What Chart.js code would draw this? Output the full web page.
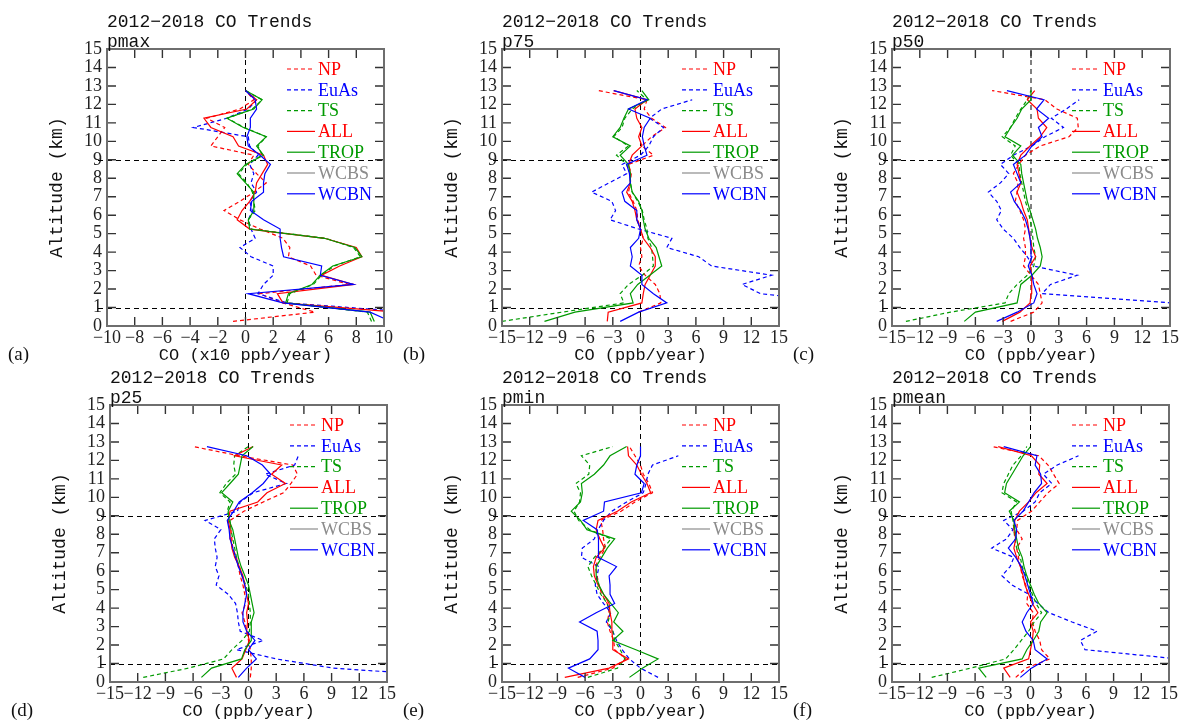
<!DOCTYPE html>
<html>
<head>
<meta charset="utf-8">
<script src="https://cdn.jsdelivr.net/npm/chart.js@4.4.0/dist/chart.umd.min.js"></script>
<style>
body{margin:0;background:#fff;overflow:hidden;width:1183px;height:723px;position:relative}
canvas{position:absolute}
</style>
</head>
<body>
<script>
// altitude levels (km), bottom to top
const ALT = [0.25,0.75,1.25,1.75,2.25,2.75,3.25,3.75,4.25,4.75,5.25,5.75,6.25,6.75,7.25,7.75,8.25,8.75,9.25,9.75,10.25,10.75,11.25,11.75,12.25,12.75];
const SERIES = ['NP','EuAs','TS','ALL','TROP','WCBS','WCBN'];
const Y_TICKS = [0,1,2,3,4,5,6,7,8,9,10,11,12,13,14,15];

// (a) pmax, units x10 ppb/year
const pmax_NP   = [-0.9,5.0,2.7,1.0,7.5,5.1,4.7,3.1,3.2,2.7,1.05,-0.4,-1.55,-0.4,0.6,1.5,0.8,0.2,0.6,-2.5,-2.0,-1.5,-2.8,-0.4,0.6,0.0];
const pmax_EuAs = [null,12,3.0,0.9,1.3,2.0,2.0,0.4,-0.4,0.7,0.4,0.2,0.5,0.3,0.8,0.4,0.6,0.3,0.9,0.3,0.2,-3.75,-1.35,0.2,0.8,0.0];
const pmax_TS   = [9.1,8.8,3.0,3.2,4.9,5.5,6.4,8.3,7.8,5.8,0.4,0.2,0.7,0.6,0.5,0.1,-0.5,0.1,1.2,0.9,1.5,-0.1,-1.3,0.5,1.2,0.0];
const pmax_ALL  = [null,11,2.7,2.3,7.8,5.5,6.8,8.4,8.0,5.7,0.3,-0.6,-0.25,0.3,0.7,0.8,1.2,1.6,1.3,-0.5,-0.9,-2.5,-3.0,0.1,0.8,0.0];
const pmax_TROP = [9.3,9.0,2.9,3.1,4.8,5.4,6.3,8.4,7.9,5.7,0.3,0.2,0.6,0.6,0.6,0.0,-0.6,0.0,1.3,0.8,1.5,-0.15,-1.35,0.6,1.2,0.0];
const pmax_WCBS = [];
const pmax_WCBN = [10.5,9.0,2.7,0.2,7.8,5.4,5.5,2.75,2.6,2.5,2.5,1.3,0.35,0.45,1.3,1.3,1.4,1.8,1.05,0.2,0.1,0.35,0.35,0.8,0.7,0.0];

// (b) p75
const p75_NP   = [null,-0.2,2.2,2.1,1.6,0.5,-0.2,0.15,0.0,0.3,0.0,-0.3,-0.4,-0.8,-1.3,-1.1,-1.0,-1.3,1.4,0.15,1.2,2.7,1.2,0.4,0.7,-4.6];
const p75_EuAs = [null,null,22,13.0,11.0,14.2,7.7,6.3,2.85,3.4,-0.2,-3.3,-2.7,-3.1,-5.3,-3.4,-1.5,-2.0,0.0,0.9,1.4,2.5,1.0,2.3,5.6,null];
const p75_TS   = [-15,-8.5,-1.8,-2.2,-1.3,0.2,1.4,1.3,1.2,0.8,0.7,0.4,0.2,-0.3,-0.9,-1.1,-1.1,-1.5,-2.6,-1.3,-2.9,-2.0,-1.7,-0.9,0.7,-0.4];
const p75_ALL  = [-3.6,-3.5,0.15,0.3,0.5,1.05,1.6,1.6,1.05,0.3,0.0,-0.4,-0.6,-0.9,-1.5,-1.1,-1.1,-1.3,-0.9,0.15,-0.2,0.15,-0.4,-0.6,0.7,-2.9];
const p75_TROP = [-10.4,-7.1,-0.8,-1.1,-0.3,1.0,2.3,2.0,1.7,0.9,0.5,0.3,0.15,-0.2,-0.9,-1.1,-1.1,-1.3,-2.2,-1.1,-3.0,-2.2,-1.8,-1.3,0.9,0.15];
const p75_WCBS = [];
const p75_WCBN = [-2.2,-0.2,2.85,1.4,0.15,0.15,-1.1,-0.9,-1.1,-0.2,0.0,-0.4,-0.4,-1.7,-2.0,-1.1,-1.2,-1.5,0.7,0.4,0.2,0.4,1.05,-1.3,0.7,-2.9];

// (c) p50
const p50_NP   = [-2.2,0.3,1.2,1.0,0.8,0.0,-0.8,-0.6,-0.6,-0.8,-0.6,-0.8,-1.2,-1.7,-1.5,-1.4,-1.9,-1.3,-0.6,1.0,4.1,5.1,5.0,2.8,1.5,-4.2];
const p50_EuAs = [null,null,15.2,1.2,2.1,5.0,0.2,-0.4,-1.2,-1.9,-3.0,-3.7,-3.2,-3.7,-4.6,-3.3,-2.4,-3.3,-1.9,0.1,1.5,3.5,2.2,3.8,5.2,null];
const p50_TS   = [-13.5,-8.7,-2.8,-2.4,-1.5,-0.4,0.3,0.5,0.3,0.2,0.1,-0.1,-0.3,-0.6,-0.8,-1.0,-1.2,-1.3,-2.2,-1.7,-3.1,-2.2,-1.7,-1.1,-0.4,0.0];
const p50_ALL  = [-3.1,-1.2,-0.1,0.0,0.05,0.1,-0.1,0.5,0.1,-0.1,-0.25,-0.4,-0.8,-1.1,-1.5,-1.1,-1.3,-1.5,-1.1,-0.1,1.0,1.7,0.8,0.65,-0.4,0.4];
const p50_TROP = [-7.2,-6.0,-1.5,-1.3,-1.1,0.1,1.0,1.2,1.0,0.7,0.5,0.2,-0.1,-0.4,-0.6,-0.8,-1.0,-1.1,-2.0,-1.1,-2.8,-2.2,-1.5,-1.0,0.0,0.0];
const p50_WCBS = [];
const p50_WCBN = [-3.7,-1.5,0.3,0.65,0.3,0.1,-0.3,0.1,0.0,-0.1,-0.3,-0.6,-1.1,-1.8,-2.2,-1.1,-1.5,-1.9,-0.6,0.1,1.2,0.8,1.9,0.6,1.4,-2.6];

// (d) p25
const p25_NP   = [0.2,0.3,0.3,0.2,0.0,-0.2,-0.4,-0.7,-0.3,-0.4,-0.6,-0.9,-1.1,-1.3,-1.7,-1.8,-1.9,-2.0,-0.5,1.6,3.8,4.6,5.3,4.8,-1.0,-6.0];
const p25_EuAs = [24,9.2,3.0,-1.3,1.6,-0.9,-1.1,-1.2,-1.4,-2.2,-3.5,-3.2,-3.6,-3.4,-3.6,-3.7,-3.0,-4.7,-1.2,-0.9,0.5,4.1,1.8,5.0,5.4,null];
const p25_TS   = [-11.4,-6.5,-2.7,-1.8,-0.7,0.1,0.2,0.2,0.1,0.0,-0.3,-0.7,-1.0,-1.3,-1.5,-1.7,-1.9,-2.0,-2.3,-2.0,-3.1,-2.4,-1.4,-1.6,-1.5,0.0];
const p25_ALL  = [-1.3,-1.8,-0.7,-0.3,0.1,-0.2,-0.1,-0.2,0.0,-0.2,-0.4,-0.6,-1.0,-1.5,-1.8,-1.9,-2.0,-2.2,-2.0,1.0,2.0,4.0,2.5,3.6,-1.5,0.5];
const p25_TROP = [-5.1,-4.0,-0.75,-0.4,0.3,0.3,0.3,0.6,0.4,0.2,0.0,-0.4,-0.8,-1.1,-1.3,-1.5,-1.7,-2.1,-2.2,-1.7,-2.9,-2.0,-1.1,-0.9,-0.7,0.5];
const p25_WCBS = [];
const p25_WCBN = [-1.1,-0.2,0.85,0.0,0.7,-0.2,-0.6,-0.6,-0.4,-0.2,-0.4,-0.7,-1.1,-1.4,-1.7,-2.0,-2.1,-2.3,-1.6,-1.0,0.4,1.6,2.4,1.5,-0.2,-4.5];

// (e) pmin
const pmin_NP   = [-6.8,-3.0,-1.6,-2.8,-2.9,-3.3,-3.6,-3.4,-3.6,-4.2,-4.5,-4.7,-4.9,-4.4,-3.8,-4.0,-4.1,-4.3,-2.1,-0.6,1.3,0.9,0.3,0.0,-0.6,-1.2];
const pmin_EuAs = [1.9,0.0,-1.2,-2.0,-2.6,-3.0,-3.7,-3.2,-4.0,-4.7,-4.9,-4.7,-4.5,-6.4,-6.3,-5.0,-4.6,-4.0,-3.1,-1.5,0.3,0.6,0.8,1.3,4.1,null];
const pmin_TS   = [-5.7,-2.5,-1.7,-2.2,-2.8,-3.0,-3.5,-3.3,-3.6,-4.3,-4.8,-5.3,-5.7,-5.0,-4.0,-3.2,-5.5,-6.7,-7.2,-6.6,-6.5,-7.0,-5.6,-5.5,-6.4,-3.0];
const pmin_ALL  = [-8.2,-3.4,-1.3,-3.0,-3.0,-3.1,-3.1,-3.3,-3.4,-4.0,-4.6,-5.0,-5.1,-4.8,-3.9,-4.4,-4.8,-4.6,-2.5,-1.0,1.1,0.7,0.1,-0.4,-1.3,-1.4];
const pmin_TROP = [-1.2,0.2,1.9,-0.5,-3.0,-1.9,-2.9,-2.4,-3.2,-4.0,-4.5,-4.8,-4.8,-4.2,-3.6,-2.8,-5.8,-6.5,-7.5,-6.5,-6.3,-6.4,-5.0,-4.0,-3.3,-1.5];
const pmin_WCBS = [];
const pmin_WCBN = [-6.0,-7.8,-5.5,-4.6,-4.6,-4.7,-6.6,-4.8,-2.8,-3.3,-3.3,-3.4,-2.6,-4.6,-4.6,-4.5,-4.7,-6.2,-4.0,-3.9,0.1,0.4,-0.6,-0.4,0.0,0.0];

// (f) pmean
const pmean_NP   = [-1.6,-0.5,2.1,1.2,1.0,0.5,0.2,0.3,-0.4,-0.3,-0.5,-0.9,-1.1,-1.3,-1.5,-0.9,-1.5,-1.4,0.1,1.0,1.9,3.1,2.5,1.9,0.9,-4.2];
const pmean_EuAs = [null,null,16,5.9,5.4,7.2,4.5,2.0,0.8,-0.2,-2.0,-3.1,-2.2,-1.8,-4.2,-2.6,-1.9,-2.9,-0.8,0.5,1.0,2.3,1.4,2.9,5.2,null];
const pmean_TS   = [-10.7,-6.5,-2.7,-1.8,-1.0,-0.2,0.4,1.2,0.6,0.2,-0.2,-0.5,-0.9,-1.1,-1.5,-1.7,-1.8,-1.9,-2.1,-1.5,-3.1,-2.9,-2.4,-1.9,-1.0,-0.4];
const pmean_ALL  = [-2.2,-2.9,-0.2,0.0,0.2,0.3,0.0,0.8,0.2,-0.2,-0.6,-0.8,-1.1,-1.5,-1.8,-1.6,-1.8,-1.7,-1.2,-0.2,0.6,1.8,0.9,1.0,0.1,-3.5];
const pmean_TROP = [-4.8,-5.6,-0.9,-0.4,0.3,0.9,1.1,1.8,0.9,0.4,0.0,-0.4,-0.7,-0.9,-1.3,-1.5,-1.7,-1.8,-2.3,-1.2,-2.8,-2.6,-2.0,-1.4,-0.8,0.0];
const pmean_WCBS = [];
const pmean_WCBN = [-1.1,0.1,1.8,0.5,0.3,-0.5,-0.9,-0.4,0.3,0.0,-0.3,-0.6,-1.0,-1.6,-2.4,-1.6,-1.5,-1.8,-0.8,-0.2,0.4,1.2,1.1,0.5,0.7,-2.9];

const STYLE = {
  NP:   {color:'#ff0000', dash:[4,3]},
  EuAs: {color:'#0000ff', dash:[4,3]},
  TS:   {color:'#009a00', dash:[4,3]},
  ALL:  {color:'#ff0000', dash:[]},
  TROP: {color:'#009a00', dash:[]},
  WCBS: {color:'#8c8c8c', dash:[]},
  WCBN: {color:'#0000ff', dash:[]}
};

const PANELS = [
  {tag:'(a)', sub:'pmax', xTitle:'CO (x10 ppb/year)', min:-10, max:10, step:2, left:0,   top:0,   w:277,
   vals:[pmax_NP,pmax_EuAs,pmax_TS,pmax_ALL,pmax_TROP,pmax_WCBS,pmax_WCBN]},
  {tag:'(b)', sub:'p75',  xTitle:'CO (ppb/year)', min:-15, max:15, step:3, left:395, top:0,   w:277,
   vals:[p75_NP,p75_EuAs,p75_TS,p75_ALL,p75_TROP,p75_WCBS,p75_WCBN]},
  {tag:'(c)', sub:'p50',  xTitle:'CO (ppb/year)', min:-15, max:15, step:3, left:785, top:0,   w:278,
   vals:[p50_NP,p50_EuAs,p50_TS,p50_ALL,p50_TROP,p50_WCBS,p50_WCBN]},
  {tag:'(d)', sub:'p25',  xTitle:'CO (ppb/year)', min:-15, max:15, step:3, left:3,   top:356, w:277,
   vals:[p25_NP,p25_EuAs,p25_TS,p25_ALL,p25_TROP,p25_WCBS,p25_WCBN]},
  {tag:'(e)', sub:'pmin', xTitle:'CO (ppb/year)', min:-15, max:15, step:3, left:395, top:356, w:277,
   vals:[pmin_NP,pmin_EuAs,pmin_TS,pmin_ALL,pmin_TROP,pmin_WCBS,pmin_WCBN]},
  {tag:'(f)', sub:'pmean',xTitle:'CO (ppb/year)', min:-15, max:15, step:3, left:785, top:356, w:277,
   vals:[pmean_NP,pmean_EuAs,pmean_TS,pmean_ALL,pmean_TROP,pmean_WCBS,pmean_WCBN]}
];

const AXIS_W = 107, TOP_PAD = 49, RIGHT_PAD = 14, X_AXIS_H = 45, PLOT_H = 277;
const MONO = '"Liberation Mono", monospace';
const SERIF = '"Liberation Serif", serif';

function minusLabel(v){ return v < 0 ? '\u2212' + Math.abs(v) : String(v); }

const decor = {
  id: 'decor',
  beforeDatasetsDraw(chart){
    const {ctx, chartArea: a, scales:{x, y}} = chart;
    ctx.save();
    ctx.strokeStyle = '#000';
    ctx.lineWidth = 1;
    ctx.setLineDash([5,4]);
    const x0 = x.getPixelForValue(0);
    ctx.beginPath(); ctx.moveTo(x0, a.bottom); ctx.lineTo(x0, a.top); ctx.stroke();
    [9, 1].forEach(v=>{
      const yy = Math.round(y.getPixelForValue(v)) + 0.5;
      ctx.beginPath(); ctx.moveTo(a.left - 9, yy); ctx.lineTo(a.right, yy); ctx.stroke();
    });
    ctx.restore();
  },
  afterDraw(chart, args, opts){
    const {ctx, chartArea: a, scales:{x, y}} = chart;
    const p = opts.panel;
    ctx.save();
    // inward tick marks
    ctx.strokeStyle = '#333';
    ctx.lineWidth = 1.4;
    Y_TICKS.forEach(v=>{
      const yy = y.getPixelForValue(v);
      ctx.beginPath();
      ctx.moveTo(a.left, yy); ctx.lineTo(a.left + 9, yy);
      ctx.moveTo(a.right - 9, yy); ctx.lineTo(a.right, yy);
      ctx.stroke();
    });
    for (let v = p.min; v <= p.max; v += p.step){
      const xx = x.getPixelForValue(v);
      ctx.beginPath();
      ctx.moveTo(xx, a.bottom); ctx.lineTo(xx, a.bottom - 9);
      ctx.moveTo(xx, a.top); ctx.lineTo(xx, a.top + 9);
      ctx.stroke();
    }
    // frame
    ctx.strokeStyle = '#6e6e6e';
    ctx.lineWidth = 2;
    ctx.strokeRect(a.left, a.top, a.right - a.left, a.bottom - a.top);

    // legend
    ctx.lineWidth = 1.2;
    ctx.textBaseline = 'middle';
    ctx.textAlign = 'left';
    ctx.font = '18px ' + SERIF;
    SERIES.forEach((s, i)=>{
      const yy = a.top + 20 + i * 20.8;
      ctx.strokeStyle = STYLE[s].color;
      ctx.setLineDash(STYLE[s].dash);
      ctx.beginPath(); ctx.moveTo(a.left + 180, yy); ctx.lineTo(a.left + 208, yy); ctx.stroke();
      ctx.setLineDash([]);
      ctx.fillStyle = STYLE[s].color;
      ctx.fillText(s, a.left + 211, yy + 1);
    });

    // titles
    ctx.fillStyle = '#111';
    ctx.font = '18px ' + MONO;
    ctx.fillText('2012\u22122018 CO Trends', a.left, a.top - 27);
    ctx.fillText(p.sub, a.left, a.top - 7);
    ctx.font = '17px ' + MONO;
    ctx.textAlign = 'center';
    ctx.fillText(p.xTitle, (a.left + a.right) / 2, a.bottom + 29);
    ctx.textAlign = 'left';
    ctx.font = '19px ' + SERIF;
    ctx.fillText(p.tag, a.left - 99, a.bottom + 29);
    ctx.save();
    ctx.translate(a.left - 50, (a.top + a.bottom) / 2);
    ctx.rotate(-Math.PI / 2);
    ctx.textAlign = 'center';
    ctx.font = '18px ' + MONO;
    ctx.fillText('Altitude (km)', 0, 0);
    ctx.restore();
    ctx.restore();
  }
};

PANELS.forEach(p=>{
  const cv = document.createElement('canvas');
  cv.width = AXIS_W + p.w + RIGHT_PAD;
  cv.height = TOP_PAD + PLOT_H + X_AXIS_H;
  cv.style.left = p.left + 'px';
  cv.style.top = p.top + 'px';
  document.body.appendChild(cv);

  const datasets = SERIES.map((s, i)=>({
    label: s,
    data: p.vals[i].map((v, k)=>({x: v, y: ALT[k]})).filter(pt => pt.x !== null && pt.x !== undefined),
    borderColor: STYLE[s].color,
    borderDash: STYLE[s].dash,
    borderWidth: 1.2,
    pointRadius: 0,
    fill: false,
    tension: 0,
    order: SERIES.length - i
  }));

  new Chart(cv, {
    type: 'line',
    data: {datasets},
    options: {
      indexAxis: 'y',
      responsive: false,
      animation: false,
      devicePixelRatio: 1,
      layout: {padding: {top: TOP_PAD, right: RIGHT_PAD, left: 0, bottom: 0}},
      plugins: {legend: {display: false}, tooltip: {enabled: false}, decor: {panel: p}},
      scales: {
        x: {
          type: 'linear', min: p.min, max: p.max,
          grid: {display: false, drawTicks: false},
          border: {display: false},
          ticks: {stepSize: p.step, autoSkip: false, maxRotation: 0, padding: 1,
                  color: '#222', font: {family: SERIF, size: 18}, callback: v => minusLabel(v)},
          afterFit: s => { s.height = X_AXIS_H; }
        },
        y: {
          type: 'linear', min: 0, max: 15,
          grid: {display: false, drawTicks: false},
          border: {display: false},
          ticks: {stepSize: 1, autoSkip: false, padding: 5,
                  color: '#222', font: {family: SERIF, size: 18}, callback: v => String(v)},
          afterFit: s => { s.width = AXIS_W; }
        }
      }
    },
    plugins: [decor]
  });
});
</script>
</body>
</html>
